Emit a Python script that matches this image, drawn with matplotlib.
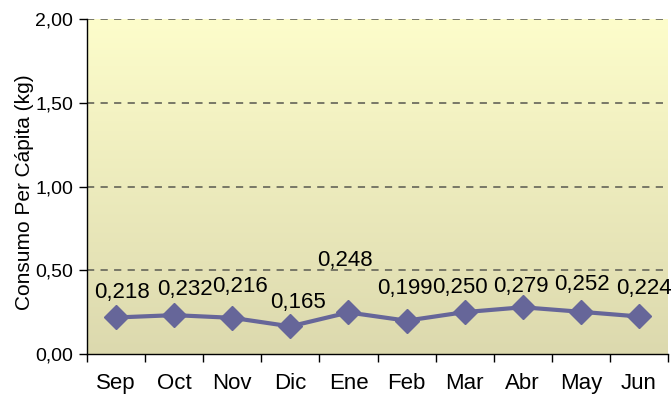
import numpy as np
import matplotlib.pyplot as plt
from matplotlib.colors import LinearSegmentedColormap

plt.rcParams['font.family'] = ['Liberation Sans', 'DejaVu Sans']

# Consumo mensual por cápita
meses = ['Sep', 'Oct', 'Nov', 'Dic', 'Ene', 'Feb', 'Mar', 'Abr', 'May', 'Jun']
consumo = [0.218, 0.232, 0.216, 0.165, 0.248, 0.199, 0.250, 0.279, 0.252, 0.224]
y_ticks = [0.0, 0.5, 1.0, 1.5, 2.0]

# desplazamiento de cada etiqueta respecto a su punto (px)
label_dx = [6, 11, 8, 8, -4, -2, -5, -1.5, 1, 5]
label_dy = [19, 20, 26, 18, 46, 27, 19, 15, 22, 22]

fig = plt.figure(figsize=(6.71, 3.99), dpi=100)
ax = fig.add_axes([87 / 671, 45 / 399, 581 / 671, 335 / 399])

x = np.arange(len(meses))
ax.set_xlim(-0.5, len(meses) - 0.5)
ax.set_ylim(0, 2.0)

# fondo degradado amarillo claro -> caqui
cmap = LinearSegmentedColormap.from_list('fondo', ['#dcd9ae', '#fdfdcb'])
grad = np.linspace(0, 1, 256).reshape(-1, 1)
ax.imshow(grad, cmap=cmap, origin='lower', aspect='auto',
          extent=[-0.5, len(meses) - 0.5, 0, 2.0], zorder=0)

for yv in y_ticks[1:]:
    ax.axhline(yv, color='#6e6e60', linestyle=(0, (4, 3.5)), linewidth=1.3, zorder=1)

ax.plot(x, consumo, color='#666699', linewidth=3, marker='D', markersize=12.5,
        zorder=3, clip_on=False)

px = 72 / fig.dpi
for xi, v, dx, dy in zip(x, consumo, label_dx, label_dy):
    ax.annotate(f'{v:.3f}'.replace('.', ','), (xi, v), xytext=(dx * px, dy * px),
                textcoords='offset points', ha='center', va='baseline',
                fontsize=16, color='black', zorder=4)

ax.set_yticks(y_ticks)
ax.set_yticklabels([f'{t:.2f}'.replace('.', ',') for t in y_ticks], fontsize=14)
ax.set_xticks(x)
ax.set_xticklabels(meses, fontsize=16)
ax.set_xticks(np.arange(-0.5, len(meses)), minor=True)
ax.tick_params(axis='x', which='major', length=0, pad=14)
ax.tick_params(axis='x', which='minor', length=6, width=1, direction='out')
ax.tick_params(axis='y', length=6, width=1, direction='out', pad=4)

ax.set_ylabel('Consumo Per Cápita (kg)', fontsize=15)
ax.yaxis.set_label_coords(-0.091, 0.482)

for s in ['top', 'right']:
    ax.spines[s].set_visible(False)
ax.spines['left'].set_linewidth(1)
ax.spines['bottom'].set_linewidth(1)

fig.savefig('out.png', dpi=100)
